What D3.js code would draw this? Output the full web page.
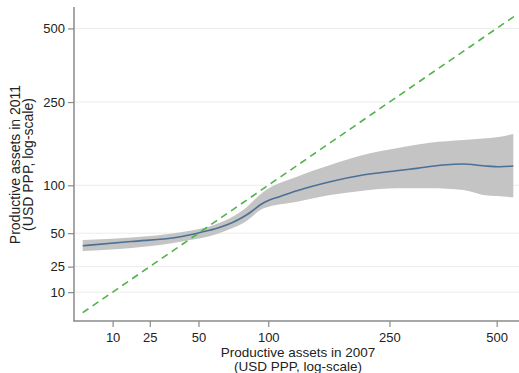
<!DOCTYPE html>
<html>
<head>
<meta charset="utf-8">
<script src="https://cdn.jsdelivr.net/npm/d3@7"></script>
<style>
  html, body { margin: 0; padding: 0; background: #fff; }
  svg { display: block; font-family: "Liberation Sans", Arial, sans-serif; }
</style>
</head>
<body>
<svg id="chart" width="519" height="373"></svg>
<script>
// ---- data ----
const xTicks = [10, 25, 50, 100, 250, 500];
const yTicks = [10, 25, 50, 100, 250, 500];

// fitted line: assets 2007 -> assets 2011
const lineX = [0, 17, 40, 51, 62, 72, 80, 86, 93, 101, 110, 127, 164, 208, 262, 300, 357, 406, 460, 510, 554];
const lineY = [39.8, 43.1, 47.0, 50.6, 54.5, 59.5, 65.0, 70.0, 77.0, 82.5, 86.2, 93.3, 104.6, 113.5, 119.5, 122.9, 127.8, 129.2, 126.7, 125.2, 126.3];

// confidence band
const bandX = [0, 40, 62, 72, 80, 96, 127, 164, 208, 262, 327, 406, 460, 500, 554];
const bandHi = [44.3, 50.7, 58.5, 65.0, 72.0, 92.1, 111.2, 127.8, 143.2, 154.3, 164.1, 169.0, 171.7, 173.9, 180.1];
const bandLo = [35.8, 43.0, 49.5, 54.5, 59.0, 73.5, 80.6, 88.2, 93.3, 96.2, 96.2, 94.1, 88.2, 87.0, 85.5];

// 45-degree reference line (y = x)
const diagX = [0, 560];

const xTitle = ["Productive assets in 2007", "(USD PPP, log-scale)"];
const yTitle = ["Productive assets in 2011", "(USD PPP, log-scale)"];

// ---- layout ----
const svg = d3.select("#chart");
const W = 519, H = 373;
const axisX = 74, axisY = 321, plotTop = 7;

const x = d3.scaleSymlog().constant(55).domain([0, 554]).range([82.7, 513.3]);
const y = d3.scaleSymlog().constant(55).domain([0, 564]).range([312.7, 15]);

// gridlines
svg.append("g").selectAll("line").data(yTicks).join("line")
  .attr("x1", axisX).attr("x2", W)
  .attr("y1", d => y(d)).attr("y2", d => y(d))
  .attr("stroke", "#ececec").attr("stroke-width", 1);

// band
const band = bandX.map((d, i) => ({x: d, lo: bandLo[i], hi: bandHi[i]}));
svg.append("path").datum(band)
  .attr("d", d3.area().x(d => x(d.x)).y0(d => y(d.lo)).y1(d => y(d.hi)).curve(d3.curveMonotoneX))
  .attr("fill", "#c4c4c4");

// fitted line
const pts = lineX.map((d, i) => ({x: d, y: lineY[i]}));
svg.append("path").datum(pts)
  .attr("d", d3.line().x(d => x(d.x)).y(d => y(d.y)).curve(d3.curveMonotoneX))
  .attr("fill", "none").attr("stroke", "#4a7096").attr("stroke-width", 1.6);

// diagonal
svg.append("path").datum(diagX)
  .attr("d", d3.line().x(d => x(d)).y(d => y(d)))
  .attr("fill", "none").attr("stroke", "#52b24a").attr("stroke-width", 1.6)
  .attr("stroke-dasharray", "7,5");

// axes
const gy = svg.append("g").attr("transform", `translate(${axisX},0)`)
  .call(d3.axisLeft(y).tickValues(yTicks).tickFormat(d3.format("d")).tickSize(6).tickPadding(3));
const gx = svg.append("g").attr("transform", `translate(0,${axisY})`)
  .call(d3.axisBottom(x).tickValues(xTicks).tickFormat(d3.format("d")).tickSize(6).tickPadding(6));
[gx, gy].forEach(g => {
  g.select(".domain").remove();
  g.selectAll(".tick line").attr("stroke", "#8a8a8a").attr("stroke-width", 1.2);
  g.selectAll(".tick text").attr("fill", "#222").style("font-size", "13px")
    .style("font-family", '"Liberation Sans", Arial, sans-serif');
});

// axis lines
svg.append("line").attr("x1", axisX).attr("x2", axisX).attr("y1", plotTop).attr("y2", axisY + 0.6)
  .attr("stroke", "#8a8a8a").attr("stroke-width", 1.5);
svg.append("line").attr("x1", axisX - 0.6).attr("x2", W).attr("y1", axisY).attr("y2", axisY)
  .attr("stroke", "#8a8a8a").attr("stroke-width", 1.5);

// titles
svg.append("g").selectAll("text").data(xTitle).join("text")
  .attr("x", 298).attr("y", (d, i) => 356.5 + i * 14)
  .attr("text-anchor", "middle").attr("fill", "#222").style("font-size", "13.5px")
  .text(d => d);

svg.append("g").selectAll("text").data(yTitle).join("text")
  .attr("transform", (d, i) => `translate(${19.5 + i * 13.5},164.5) rotate(-90)`)
  .attr("text-anchor", "middle").attr("fill", "#222").style("font-size", "14px")
  .text(d => d);
</script>
</body>
</html>
